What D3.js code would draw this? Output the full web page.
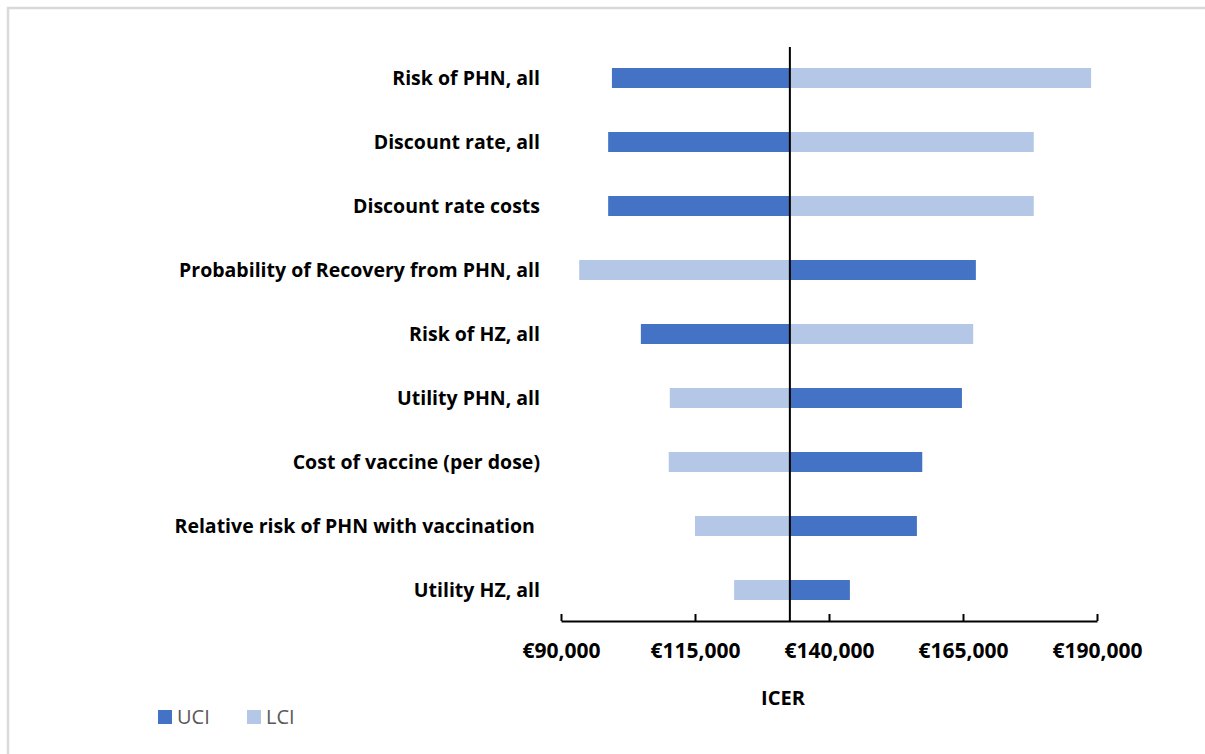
<!DOCTYPE html>
<html>
<head>
<meta charset="utf-8">
<script src="https://d3js.org/d3.v7.min.js"></script>
<style>
  body { margin: 0; background: #fff; }
  text { font-family: "Open Sans", "Noto Sans", sans-serif; }
</style>
</head>
<body>
<svg width="1205" height="754"></svg>
<script>
// tornado chart data (ICER in euro)
var categories = [
  "Risk of PHN, all",
  "Discount rate, all",
  "Discount rate costs",
  "Probability of Recovery from PHN, all",
  "Risk of HZ, all",
  "Utility PHN, all",
  "Cost of vaccine (per dose)",
  "Relative risk of PHN with vaccination ",
  "Utility HZ, all"
];
var uciValues = [99500, 98800, 98800, 167400, 104900, 164800, 157400, 156400, 143900];
var lciValues = [188900, 178200, 178200, 93400, 166900, 110300, 110100, 115000, 122300];
var baseIcer = 132700;
var tickValues = [90000, 115000, 140000, 165000, 190000];

var svg = d3.select("svg");

var darkBlue = "#4472C4", lightBlue = "#B4C7E7";

// frame
svg.append("rect")
    .attr("x", 8).attr("y", 8)
    .attr("width", 1300).attr("height", 900)
    .attr("fill", "none")
    .attr("stroke", "#d9d9d9")
    .attr("stroke-width", 2.5);

var x = d3.scaleLinear()
    .domain([90000, 190000])
    .range([561, 1097]);

var y = d3.scalePoint()
    .domain(categories)
    .range([46, 622])
    .padding(0.5);

var barH = 20;

var rows = categories.map(function(c, i) {
  return {name: c, uci: uciValues[i], lci: lciValues[i]};
});

var bars = svg.append("g");

// LCI bars
bars.selectAll(".lci")
  .data(rows)
  .enter().append("rect")
    .attr("class", "lci")
    .attr("x", function(d) { return Math.min(x(d.lci), x(baseIcer)); })
    .attr("width", function(d) { return Math.abs(x(d.lci) - x(baseIcer)); })
    .attr("y", function(d) { return y(d.name) - barH / 2; })
    .attr("height", barH)
    .attr("fill", lightBlue);

// UCI bars
bars.selectAll(".uci")
  .data(rows)
  .enter().append("rect")
    .attr("class", "uci")
    .attr("x", function(d) { return Math.min(x(d.uci), x(baseIcer)); })
    .attr("width", function(d) { return Math.abs(x(d.uci) - x(baseIcer)); })
    .attr("y", function(d) { return y(d.name) - barH / 2; })
    .attr("height", barH)
    .attr("fill", darkBlue);

// category labels
svg.append("g").selectAll("text")
  .data(categories)
  .enter().append("text")
    .attr("x", 540)
    .attr("y", function(d) { return y(d); })
    .attr("dy", "0.35em")
    .attr("text-anchor", "end")
    .attr("font-size", 19.5)
    .attr("font-weight", "bold")
    .attr("fill", "#000")
    .style("white-space", "pre")
    .text(function(d) { return d; });

// x axis
var axisG = svg.append("g")
    .attr("transform", "translate(0,621)")
    .call(d3.axisBottom(x)
      .tickValues(tickValues)
      .tickSizeInner(-7)
      .tickSizeOuter(0)
      .tickPadding(22)
      .tickFormat(function(d) { return "€" + d3.format(",")(d); }));

axisG.select(".domain").attr("stroke", "#000").attr("stroke-width", 2);
axisG.selectAll(".tick line").attr("stroke", "#000").attr("stroke-width", 2);
axisG.selectAll(".tick text")
    .attr("font-family", "'Open Sans', sans-serif")
    .attr("font-size", 21)
    .attr("font-weight", "bold")
    .attr("fill", "#000");

// base line
svg.append("line")
    .attr("x1", x(baseIcer)).attr("x2", x(baseIcer))
    .attr("y1", 47).attr("y2", 621)
    .attr("stroke", "#000")
    .attr("stroke-width", 2);

// axis title
svg.append("text")
    .attr("x", 783)
    .attr("y", 698)
    .attr("dy", "0.35em")
    .attr("text-anchor", "middle")
    .attr("font-size", 20)
    .attr("font-weight", "bold")
    .text("ICER");

// legend
var legend = svg.append("g").selectAll("g")
  .data([{label: "UCI", color: darkBlue, x: 158}, {label: "LCI", color: lightBlue, x: 247}])
  .enter().append("g");

legend.append("rect")
    .attr("x", function(d) { return d.x; })
    .attr("y", 710)
    .attr("width", 14).attr("height", 14)
    .attr("fill", function(d) { return d.color; });

legend.append("text")
    .attr("x", function(d) { return d.x + 19; })
    .attr("y", 717)
    .attr("dy", "0.35em")
    .attr("font-size", 20)
    .attr("fill", "#595959")
    .text(function(d) { return d.label; });
</script>
</body>
</html>
